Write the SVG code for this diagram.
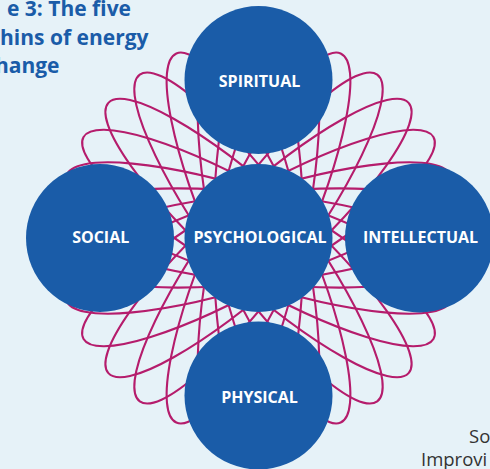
<svg xmlns="http://www.w3.org/2000/svg" xmlns:xlink="http://www.w3.org/1999/xlink" width="490" height="469" viewBox="0 0 490 469">
  <style>
    .bg { fill: #e6f2f8; }
    .petal { fill: none; stroke: #b51c6c; stroke-width: 2.1; }
    .node circle { fill: #1a5ca8; }
    .label { font-family: "Open Sans", "Liberation Sans", sans-serif; font-weight: 700; font-size: 16px; fill: #ffffff; text-anchor: middle; }
    .title { font-family: "Open Sans", "Liberation Sans", sans-serif; font-weight: 700; font-size: 21px; fill: #1a5ca8; text-anchor: end; }
    .source { font-family: "Open Sans", "Liberation Sans", sans-serif; font-weight: 400; font-size: 18.5px; fill: #333333; }
  </style>
  <defs>
    <ellipse id="petal" cx="0" cy="0" rx="202" ry="45"/>
  </defs>
  <rect class="bg" x="0" y="0" width="490" height="469"/>

  <g id="title">
    <text class="title" x="131" y="16">e 3: The five</text>
    <text class="title" x="148.5" y="44.5">hins of energy</text>
    <text class="title" x="59.5" y="72.7">hange</text>
  </g>

  <g id="connectors" class="petal" transform="translate(258.5 238)">
    <use xlink:href="#petal" transform="rotate(6)"/>
    <use xlink:href="#petal" transform="rotate(18)"/>
    <use xlink:href="#petal" transform="rotate(30)"/>
    <use xlink:href="#petal" transform="rotate(42)"/>
    <use xlink:href="#petal" transform="rotate(54)"/>
    <use xlink:href="#petal" transform="rotate(66)"/>
    <use xlink:href="#petal" transform="rotate(78)"/>
    <use xlink:href="#petal" transform="rotate(90)"/>
    <use xlink:href="#petal" transform="rotate(102)"/>
    <use xlink:href="#petal" transform="rotate(114)"/>
    <use xlink:href="#petal" transform="rotate(126)"/>
    <use xlink:href="#petal" transform="rotate(138)"/>
    <use xlink:href="#petal" transform="rotate(150)"/>
    <use xlink:href="#petal" transform="rotate(162)"/>
    <use xlink:href="#petal" transform="rotate(174)"/>
  </g>

  <g id="node-spiritual" class="node">
    <circle cx="258.5" cy="80" r="74"/>
    <text class="label" x="259.5" y="87.3">SPIRITUAL</text>
  </g>
  <g id="node-social" class="node">
    <circle cx="100" cy="238" r="74"/>
    <text class="label" x="100.7" y="243.3">SOCIAL</text>
  </g>
  <g id="node-psychological" class="node">
    <circle cx="258.5" cy="238" r="74"/>
    <text class="label" x="260" y="243.3">PSYCHOLOGICAL</text>
  </g>
  <g id="node-intellectual" class="node">
    <circle cx="419.5" cy="238" r="74.5"/>
    <text class="label" x="420.5" y="243.3">INTELLECTUAL</text>
  </g>
  <g id="node-physical" class="node">
    <circle cx="258.5" cy="395.5" r="74"/>
    <text class="label" x="259.5" y="402.5">PHYSICAL</text>
  </g>

  <g id="source">
    <text class="source" x="469" y="443">So</text>
    <text class="source" x="421" y="466">Improvi</text>
  </g>
</svg>
